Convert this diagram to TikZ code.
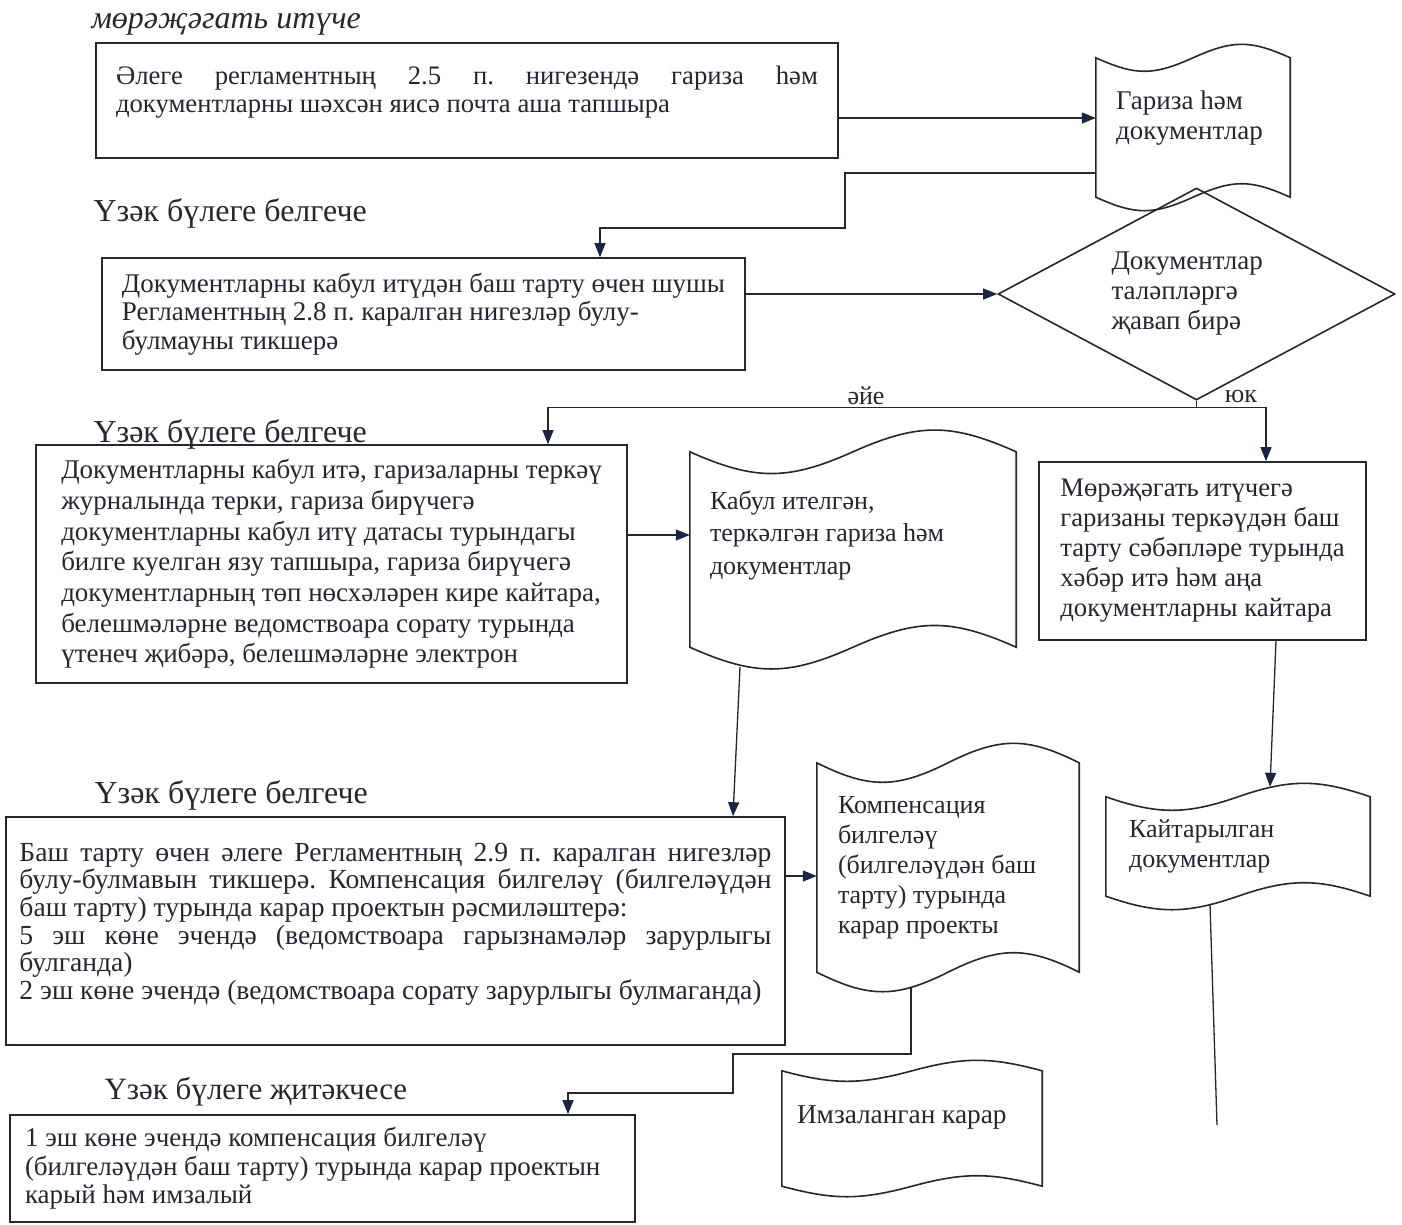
\documentclass[tikz,border=0pt]{standalone}
\usepackage{fontspec}
\setmainfont{Liberation Serif}
\usetikzlibrary{shapes.geometric,arrows.meta}
\frenchspacing

\definecolor{ink}{HTML}{26262E}
\definecolor{navy}{HTML}{1B2440}

% wavy document outline around a named node: #1 node, #2 and #3 control offsets
\newcommand\docwave[3]{%
  \draw[ink, line width=1.6pt] (#1.north west)
    .. controls +(#2,#3) and +(-#2,#3) .. (#1.north)
    .. controls +(#2,-#3) and +(-#2,-#3) .. (#1.north east)
    -- (#1.south east)
    .. controls +(-#2,-#3) and +(#2,-#3) .. (#1.south)
    .. controls +(-#2,#3) and +(#2,#3) .. (#1.south west) -- cycle;}

\begin{document}
\begin{tikzpicture}[x=1pt,y=-1pt,
    box/.style={draw=ink, line width=1.6pt, rectangle, inner sep=0pt, align=left, text=ink},
    docnode/.style={rectangle, inner ysep=0pt, align=flush left, text=ink},
    head/.style={anchor=west, text=ink, font=\fontsize{32}{34}\selectfont},
    lbl/.style={text=ink, font=\fontsize{26}{30}\selectfont},
    line/.style={draw=ink, line width=1.3pt},
    conn/.style={line, -{Triangle[length=14pt,width=11pt,color=navy]}}]
  \fill[white] (0,0) rectangle (1402,1224);
  \useasboundingbox (0,0) rectangle (1402,1224);

  \node[head, font=\fontsize{32}{34}\selectfont\itshape] (zayav) at (88,24) {мөрәҗәгать итүче};
  \node[box, minimum width=742pt, minimum height=115pt, text width=702pt, align=justify,
        font=\fontsize{26.7}{28}\selectfont] (podacha) at (467,100.5)
    {Әлеге регламентның 2.5 п. нигезендә гариза һәм\linebreak
     документларны шәхсән яисә почта аша тапшыра\\[-5pt]\mbox{}};
  \node[docnode, minimum width=194pt, minimum height=139pt, inner xsep=20pt, text width=154pt,
        font=\fontsize{27}{30}\selectfont] (gariza) at (1193,127.5)
    {Гариза һәм\\ документлар\\[-5pt]\mbox{}};
  \docwave{gariza}{40}{18}

  \node[head] (spec1) at (90,213) {Үзәк бүлеге белгече};
  \node[box, minimum width=643pt, minimum height=112pt, font=\fontsize{27}{28.5}\selectfont]
    (tikshere) at (423.5,314)
    {Документларны кабул итүдән баш тарту өчен шушы\\
     Регламентның 2.8 п. каралган нигезләр булу-\\
     булмауны тикшерә};
  \node[draw=ink, line width=1.6pt, diamond, aspect=1.87, inner sep=0pt, minimum width=397pt,
        minimum height=212pt, text width=170pt, align=flush left, text=ink,
        font=\fontsize{27}{30}\selectfont]
    (reshenie) at (1196.5,294) {Документлар\\ таләпләргә\\ җавап бирә};

  \node[head] (spec2) at (90,434) {Үзәк бүлеге белгече};
  \node[box, minimum width=591pt, minimum height=238pt, font=\fontsize{27}{30.7}\selectfont]
    (kabul) at (331.5,564)
    {Документларны кабул итә, гаризаларны теркәү\\
     журналында терки, гариза бирүчегә\\
     документларны кабул итү датасы турындагы\\
     билге куелган язу тапшыра, гариза бирүчегә\\
     документларның төп нөсхәләрен кире кайтара,\\
     белешмәләрне ведомствоара сорату турында\\
     үтенеч җибәрә, белешмәләрне электрон};
  \node[docnode, minimum width=326pt, minimum height=195pt, inner xsep=20pt, text width=286pt,
        font=\fontsize{26}{32.5}\selectfont] (kabuldoc) at (853,549.5)
    {Кабул ителгән,\\ теркәлгән гариза һәм\\ документлар\\[1.5pt]\mbox{}};
  \docwave{kabuldoc}{65}{29}
  \node[box, minimum width=327pt, minimum height=178pt, font=\fontsize{26.7}{30}\selectfont]
    (kire) at (1202.5,551)
    {Мөрәҗәгать итүчегә\\ гаризаны теркәүдән баш\\ тарту сәбәпләре турында\\
     хәбәр итә һәм аңа\\ документларны кайтара};

  \node[head] (spec3) at (91,795) {Үзәк бүлеге белгече};
  \node[box, minimum width=779pt, minimum height=228pt, text width=752pt, align=justify,
        font=\fontsize{27.6}{27.6}\selectfont] (proekt) at (395.5,931)
    {Баш тарту өчен әлеге Регламентның 2.9 п. каралган нигезләр\linebreak
     булу-булмавын тикшерә. Компенсация билгеләү (билгеләүдән\linebreak
     баш тарту) турында карар проектын рәсмиләштерә:\\
     5 эш көне эчендә (ведомствоара гарызнамәләр зарурлыгы\linebreak
     булганда)\\
     2 эш көне эчендә (ведомствоара сорату зарурлыгы булмаганда)\\[-8pt]\mbox{}};
  \node[docnode, minimum width=262pt, minimum height=209pt, inner xsep=21pt, text width=220pt,
        font=\fontsize{26}{30}\selectfont] (komp) at (948,867.5)
    {Компенсация\\ билгеләү\\ (билгеләүдән баш\\ тарту) турында\\ карар проекты};
  \docwave{komp}{52}{26}
  \node[docnode, minimum width=264pt, minimum height=99pt, inner xsep=23pt, text width=218pt,
        font=\fontsize{26}{30}\selectfont] (kaitar) at (1238,846.5)
    {Кайтарылган\\ документлар};
  \docwave{kaitar}{52}{18}

  \node[head, font=\fontsize{31}{34}\selectfont] (nachalnik) at (101,1092) {Үзәк бүлеге җитәкчесе};
  \node[box, minimum width=625pt, minimum height=107pt, text width=595pt, align=flush left,
        font=\fontsize{27}{28.5}\selectfont] (imza) at (322.5,1168.5)
    {1 эш көне эчендә компенсация билгеләү\\
     (билгеләүдән баш тарту) турында карар проектын\\
     карый һәм имзалый};
  \node[docnode, minimum width=260pt, minimum height=115pt, inner xsep=15pt, text width=230pt,
        font=\fontsize{27.3}{30}\selectfont] (imzadoc) at (912,1128.5)
    {Имзаланган карар\\[-3pt]\mbox{}};
  \docwave{imzadoc}{52}{14}

  % connectors
  \coordinate (p1) at ([yshift=-17.5pt]podacha.east);
  \draw[conn] (p1) -- (p1 -| gariza.west);
  \coordinate (g1) at ([yshift=-45.5pt]gariza.west);
  \coordinate (g2) at (845,228);
  \draw[conn] (g1) -| (g2) -| ([xshift=176.5pt]tikshere.north);
  \draw[conn] (tikshere.east |- reshenie.west) -- (reshenie.west);
  \coordinate (razv) at ([yshift=-7pt]reshenie.south);
  \draw[line] (reshenie.south) -- (razv);
  \draw[conn] (razv) -| ([xshift=216.5pt]kabul.north);
  \draw[conn] (razv) -| ([xshift=63.5pt]kire.north);
  \node[lbl] (aye) at (866,396) {әйе};
  \node[lbl] (yuk) at (1241,396) {юк};
  \coordinate (k1) at ([yshift=29pt]kabul.east);
  \draw[conn] (k1) -- (k1 -| kabuldoc.west);
  \draw[conn] ([xshift=-113pt,yshift=-20pt]kabuldoc.south) -- ([xshift=337.5pt]proekt.north);
  \coordinate (p5) at ([yshift=55pt]proekt.east);
  \draw[conn] (p5) -- (p5 -| komp.west);
  \coordinate (c1) at (733,1054);
  \coordinate (c2) at (568,1093);
  \draw[conn] ([xshift=-37pt,yshift=-15pt]komp.south) |- (c1) |- (c2) -- ([xshift=245.5pt]imza.north);
  \draw[conn] ([xshift=73.5pt]kire.south) -- ([xshift=32pt,yshift=10pt]kaitar.north);
  \coordinate (kend) at (1217,1125);
  \draw[line] ([xshift=-28pt,yshift=-8pt]kaitar.south) -- (kend);
\end{tikzpicture}
\end{document}
